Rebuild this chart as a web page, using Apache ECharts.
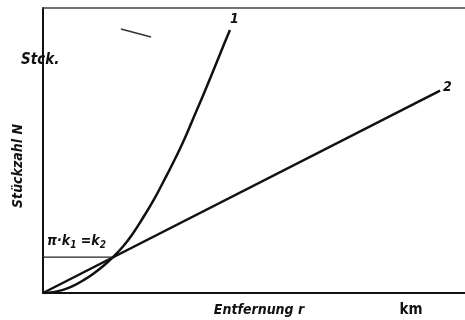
<!DOCTYPE html>
<html><head><meta charset="utf-8">
<script src="https://cdn.jsdelivr.net/npm/echarts@6/dist/echarts.min.js"></script>
<style>html,body{margin:0;padding:0;background:#fff}#c{width:465px;height:320px}</style>
</head><body><div id="c"></div>
<script>
// Curve 1 (quadratic-like growth): [r, N]
var curve1 = [[0,0],[2.37,0.28],[4.74,1.09],[7.11,2.46],[9.48,4.39],[11.85,6.7],[14.2,9.4],[16.6,12.6],[19.0,16.4],[21.3,20.9],[23.7,26.4],[26.1,32.3],[28.4,38.7],[30.8,45.6],[33.2,53.0],[35.5,60.9],[37.9,69.2],[40.3,77.8],[42.7,86.6],[44.3,92.3]];
// Line 2 (linear growth)
var line2 = [[0,0],[94.1,71]];
// Intersection level pi*k1 = k2
var crossLevel = [[0,12.6],[16.6,12.6]];
var labels = {c1:'1', c2:'2', yTop:'Stck.', yName:'Stückzahl N', xName:'Entfernung r', xUnit:'km'};

var chart = echarts.init(document.getElementById('c'));
var F = '"DejaVu Sans Condensed","Liberation Sans Narrow"';
chart.setOption({
  animation:false,
  grid:{left:43, right:0, top:8, bottom:27},
  xAxis:[{type:'value', min:0, max:100, axisLine:{show:true, lineStyle:{color:'#111', width:2}}, axisTick:{show:false}, axisLabel:{show:false}, splitLine:{show:false}},
         {type:'value', position:'top', min:0, max:100, axisLine:{show:true, lineStyle:{color:'#444', width:1.5}}, axisTick:{show:false}, axisLabel:{show:false}, splitLine:{show:false}}],
  yAxis:{type:'value', min:0, max:100, axisLine:{show:true, lineStyle:{color:'#111', width:2}}, axisTick:{show:false}, axisLabel:{show:false}, splitLine:{show:false}},
  series:[
    {type:'line', data:curve1, smooth:0.5, symbol:'none', lineStyle:{color:'#111', width:2.5},
     endLabel:{show:true, formatter:labels.c1, offset:[-8,-11], fontSize:14, fontFamily:F, fontStyle:'italic', fontWeight:'bold', color:'#111'}},
    {type:'line', data:line2, symbol:'none', lineStyle:{color:'#111', width:2.5},
     endLabel:{show:true, formatter:labels.c2, offset:[-5,-3], fontSize:14, fontFamily:F, fontStyle:'italic', fontWeight:'bold', color:'#111'}},
    {type:'line', data:crossLevel, symbol:'none', lineStyle:{color:'#222', width:1.2}}
  ],
  graphic:[
    {type:'text', x:21, y:60, z:10, style:{text:labels.yTop, font:'italic bold 15px '+F, fill:'#111', verticalAlign:'middle'}},
    {type:'text', x:18, y:166, rotation:Math.PI/2, style:{text:labels.yName, font:'italic bold 14px '+F, fill:'#111', align:'center', verticalAlign:'middle'}},
    {type:'text', x:47, y:233, style:{text:'{a|π·k}{s|1}{a| =k}{s|2}', rich:{a:{font:'italic bold 14px '+F, fill:'#111'}, s:{font:'italic bold 10px '+F, fill:'#111', padding:[7,0,0,0]}}}},
    {type:'text', x:259, y:310, style:{text:labels.xName, font:'italic bold 14px '+F, fill:'#111', align:'center', verticalAlign:'middle'}},
    {type:'text', x:411, y:310, style:{text:labels.xUnit, font:'bold 15px '+F, fill:'#111', align:'center', verticalAlign:'middle'}},
    {type:'line', shape:{x1:121, y1:29, x2:151, y2:37}, style:{stroke:'#333', lineWidth:1.3}}
  ]
});
</script></body></html>
